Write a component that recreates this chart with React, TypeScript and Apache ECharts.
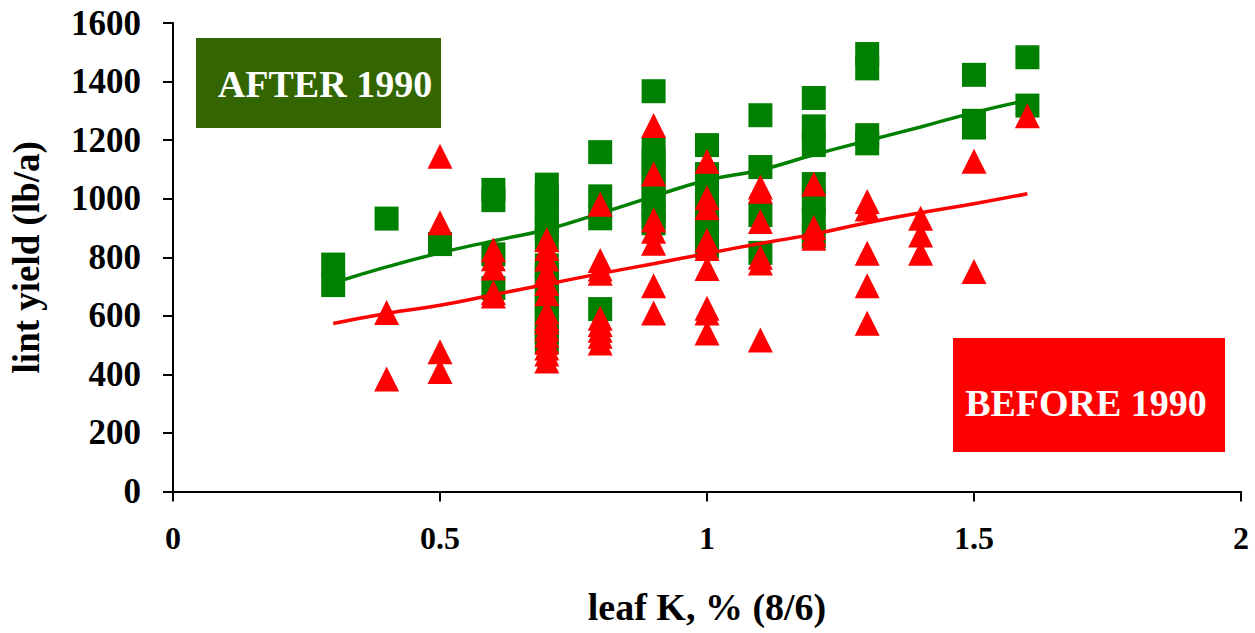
import React, { useEffect, useRef } from "react";
import * as echarts from "echarts";

// AFTER 1990 (green squares): leaf K values and lint yields
const afterK = [
  0.3, 0.3,
  0.4,
  0.5,
  0.6, 0.6, 0.6, 0.6,
  0.7, 0.7, 0.7, 0.7, 0.7, 0.7, 0.7, 0.7, 0.7, 0.7, 0.7, 0.7, 0.7, 0.7,
  0.8, 0.8, 0.8, 0.8,
  0.9, 0.9, 0.9, 0.9, 0.9, 0.9, 0.9, 0.9, 0.9,
  1.0, 1.0, 1.0, 1.0, 1.0, 1.0, 1.0, 1.0,
  1.1, 1.1, 1.1, 1.1,
  1.2, 1.2, 1.2, 1.2, 1.2, 1.2, 1.2,
  1.3, 1.3, 1.3, 1.3,
  1.5, 1.5, 1.5,
  1.6, 1.6,
];
const afterYield = [
  775, 705,
  932,
  845,
  1030, 995, 810, 695,
  1048, 1010, 970, 930, 895, 859, 772, 740, 700, 660, 620, 580, 545, 512,
  1159, 1008, 933, 623,
  1367, 1167, 1130, 1090, 1050, 1010, 970, 940, 916,
  1183, 1084, 1040, 1000, 960, 920, 880, 837,
  1285, 1108, 944, 815,
  1344, 1247, 1183, 1050, 990, 930, 871,
  1494, 1445, 1217, 1189,
  1423, 1266, 1243,
  1483, 1318,
];

// BEFORE 1990 (red triangles)
const beforeK = [
  0.4, 0.4,
  0.5, 0.5, 0.5, 0.5,
  0.6, 0.6, 0.6, 0.6, 0.6,
  0.7, 0.7, 0.7, 0.7, 0.7, 0.7, 0.7, 0.7, 0.7, 0.7, 0.7, 0.7, 0.7, 0.7, 0.7,
  0.8, 0.8, 0.8, 0.8, 0.8, 0.8, 0.8, 0.8, 0.8,
  0.9, 0.9, 0.9, 0.9, 0.9, 0.9, 0.9,
  1.0, 1.0, 1.0, 1.0, 1.0, 1.0, 1.0, 1.0, 1.0,
  1.1, 1.1, 1.1, 1.1, 1.1, 1.1,
  1.2, 1.2, 1.2, 1.2,
  1.3, 1.3, 1.3, 1.3, 1.3,
  1.4, 1.4, 1.4,
  1.5, 1.5,
  1.6,
];
const beforeYield = [
  611, 384,
  1145, 918, 477, 410,
  825, 795, 763, 680, 668,
  860, 830, 794, 749, 710, 675, 612, 590, 578, 555, 534, 510, 490, 470, 446,
  981, 789, 760, 745, 592, 570, 551, 530, 507,
  1250, 1084, 927, 889, 848, 703, 610,
  1128, 1003, 969, 858, 830, 762, 626, 610, 541,
  1040, 1025, 922, 800, 780, 517,
  1050, 902, 880, 865,
  990, 965, 814, 703, 575,
  933, 876, 814,
  1128, 751,
  1283,
];

// Trend lines
const trendK = [0.3, 0.4, 0.5, 0.6, 0.7, 0.8, 0.9, 1.0, 1.1, 1.2, 1.3, 1.4, 1.5, 1.6];
const afterTrend = [712, 767, 815, 856, 895, 950, 1008, 1063, 1098, 1150, 1198, 1245, 1294, 1336];
const beforeTrend = [574, 608, 636, 672, 708, 744, 778, 813, 847, 879, 918, 952, 983, 1017];

const xTicks = { min: 0, max: 2, interval: 0.5 };
const yTicks = { min: 0, max: 1600, interval: 200 };

const FONT = "'Liberation Serif', 'Times New Roman', serif";

export default function App() {
  const ref = useRef<HTMLDivElement>(null);
  useEffect(() => {
    if (!ref.current) return;
    const chart = echarts.init(ref.current, null, { renderer: "svg" });
    const zip = (xs: number[], ys: number[]) => xs.map((x, i) => [x, ys[i]]);
    chart.setOption({
      animation: false,
      backgroundColor: "#ffffff",
      textStyle: { fontFamily: FONT },
      grid: { left: 170, top: 23, width: 1071, height: 468.5 },
      xAxis: {
        type: "value",
        min: xTicks.min,
        max: xTicks.max,
        interval: xTicks.interval,
        splitLine: { show: false },
        axisLine: { show: true, lineStyle: { color: "#000", width: 2 } },
        axisTick: { show: true, length: 10, lineStyle: { color: "#000", width: 2 } },
        axisLabel: {
          color: "#000",
          fontFamily: FONT,
          fontWeight: "bold",
          fontSize: 32,
          margin: 30,
          formatter: (v: number) => String(v),
        },
        name: "leaf K, % (8/6)",
        nameLocation: "middle",
        nameGap: 96,
        nameTextStyle: { color: "#000", fontFamily: FONT, fontWeight: "bold", fontSize: 38 },
      },
      yAxis: {
        type: "value",
        min: yTicks.min,
        max: yTicks.max,
        interval: yTicks.interval,
        splitLine: { show: false },
        axisLine: { show: true, lineStyle: { color: "#000", width: 2 } },
        axisTick: { show: true, length: 10, lineStyle: { color: "#000", width: 2 } },
        axisLabel: {
          color: "#000",
          fontFamily: FONT,
          fontWeight: "bold",
          fontSize: 35,
          margin: 32,
          formatter: (v: number) => String(v),
        },
        name: "lint yield (lb/a)",
        nameLocation: "middle",
        nameGap: 128,
        nameRotate: 90,
        nameTextStyle: { color: "#000", fontFamily: FONT, fontWeight: "bold", fontSize: 37 },
      },
      series: [
        {
          name: "AFTER 1990",
          type: "scatter",
          data: zip(afterK, afterYield),
          symbol: "rect",
          symbolSize: 24,
          itemStyle: { color: "#008000", opacity: 1 },
          z: 2,
        },
        {
          name: "after trend",
          type: "line",
          data: zip(trendK, afterTrend),
          smooth: true,
          showSymbol: false,
          symbol: "none",
          lineStyle: { color: "#008000", width: 3.5 },
          z: 3,
        },
        {
          name: "before trend",
          type: "line",
          data: zip(trendK, beforeTrend),
          smooth: true,
          showSymbol: false,
          symbol: "none",
          lineStyle: { color: "#ff0000", width: 3.5 },
          z: 3,
        },
        {
          name: "BEFORE 1990",
          type: "scatter",
          data: zip(beforeK, beforeYield),
          symbol: "triangle",
          symbolSize: 25,
          itemStyle: { color: "#ff0000", opacity: 1 },
          z: 4,
        },
      ],
      graphic: [
        {
          type: "rect",
          left: 196,
          top: 38,
          shape: { width: 245, height: 90 },
          style: { fill: "#336600" },
          z: 10,
        },
        {
          type: "text",
          x: 325,
          y: 84,
          style: {
            text: "AFTER 1990",
            fill: "#ffffff",
            font: `bold 38px ${FONT}`,
            textAlign: "center",
            textVerticalAlign: "middle",
            align: "center",
            verticalAlign: "middle",
          },
          z: 11,
        },
        {
          type: "rect",
          left: 953,
          top: 338,
          shape: { width: 272, height: 114 },
          style: { fill: "#ff0000" },
          z: 10,
        },
        {
          type: "text",
          x: 1086,
          y: 403,
          style: {
            text: "BEFORE 1990",
            fill: "#ffffff",
            font: `bold 38px ${FONT}`,
            textAlign: "center",
            textVerticalAlign: "middle",
            align: "center",
            verticalAlign: "middle",
          },
          z: 11,
        },
      ],
    });
    return () => chart.dispose();
  }, []);
  return (
    <div
      ref={ref}
      style={{ position: "fixed", left: 0, top: 0, width: 1255, height: 633, background: "#fff" }}
    />
  );
}
